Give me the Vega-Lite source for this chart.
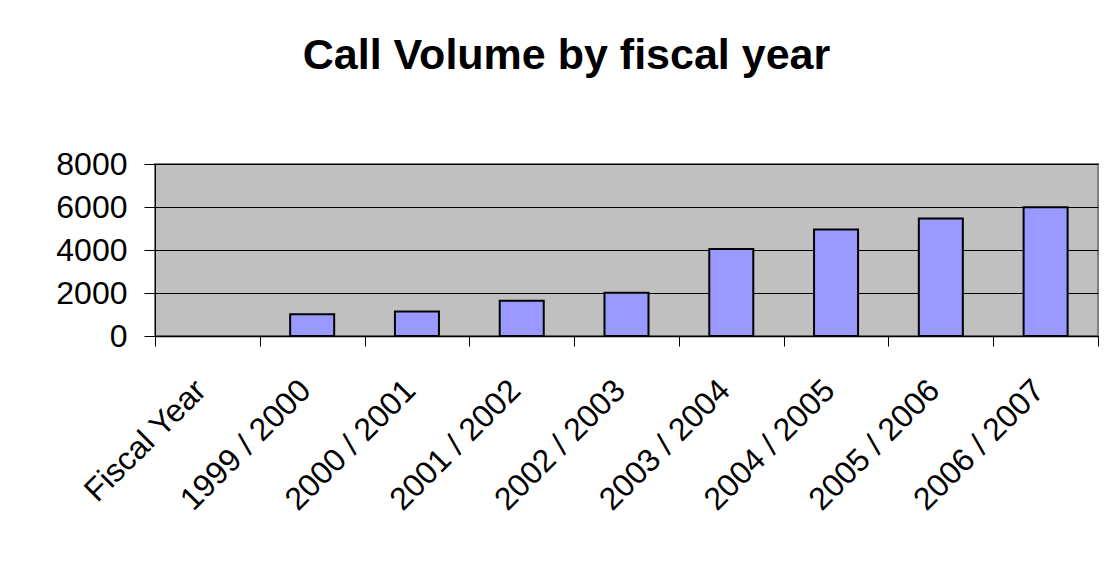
{
  "$schema": "https://vega.github.io/schema/vega-lite/v6.json",
  "width": 943,
  "height": 172,
  "autosize": "none",
  "padding": {"left": 155, "top": 164, "right": 14, "bottom": 226},
  "background": "white",
  "title": {
    "text": "Call Volume by fiscal year",
    "font": "Liberation Sans",
    "fontSize": 43,
    "fontWeight": "bold",
    "color": "black",
    "anchor": "middle",
    "dx": -60,
    "baseline": "alphabetic",
    "offset": 36
  },
  "data": {
    "values": [
      {"year": "Fiscal Year", "calls": null},
      {"year": "1999 / 2000", "calls": 1010},
      {"year": "2000 / 2001", "calls": 1140},
      {"year": "2001 / 2002", "calls": 1640},
      {"year": "2002 / 2003", "calls": 2010},
      {"year": "2003 / 2004", "calls": 4050},
      {"year": "2004 / 2005", "calls": 4950},
      {"year": "2005 / 2006", "calls": 5470},
      {"year": "2006 / 2007", "calls": 5990}
    ]
  },
  "mark": {"type": "bar", "fill": "#9999FF", "stroke": "black", "strokeWidth": 2, "width": {"band": 0.42}},
  "encoding": {
    "x": {
      "field": "year",
      "type": "nominal",
      "sort": null,
      "scale": {
        "domain": ["Fiscal Year", "1999 / 2000", "2000 / 2001", "2001 / 2002", "2002 / 2003", "2003 / 2004", "2004 / 2005", "2005 / 2006", "2006 / 2007"],
        "paddingInner": 0,
        "paddingOuter": 0
      },
      "axis": {
        "title": null,
        "labelAngle": -45,
        "labelAlign": "right",
        "labelBaseline": "alphabetic",
        "labelFont": "Liberation Sans",
        "labelFontSize": 32,
        "labelColor": "black",
        "labelPadding": 46,
        "labelOverlap": false,
        "tickBand": "extent",
        "tickSize": 10,
        "tickColor": "black",
        "domainColor": "black",
        "domainWidth": 1.5,
        "grid": false
      }
    },
    "y": {
      "field": "calls",
      "type": "quantitative",
      "scale": {"domain": [0, 8000], "nice": false},
      "axis": {
        "title": null,
        "values": [0, 2000, 4000, 6000, 8000],
        "format": "d",
        "tickSize": 11,
        "labelPadding": 17,
        "labelFont": "Liberation Sans",
        "labelFontSize": 32,
        "labelColor": "black",
        "tickColor": "black",
        "domainColor": "black",
        "gridColor": "black",
        "gridWidth": 1,
        "gridOpacity": 1
      }
    }
  },
  "config": {
    "view": {"fill": "#C0C0C0", "stroke": "#808080", "strokeWidth": 2}
  }
}
